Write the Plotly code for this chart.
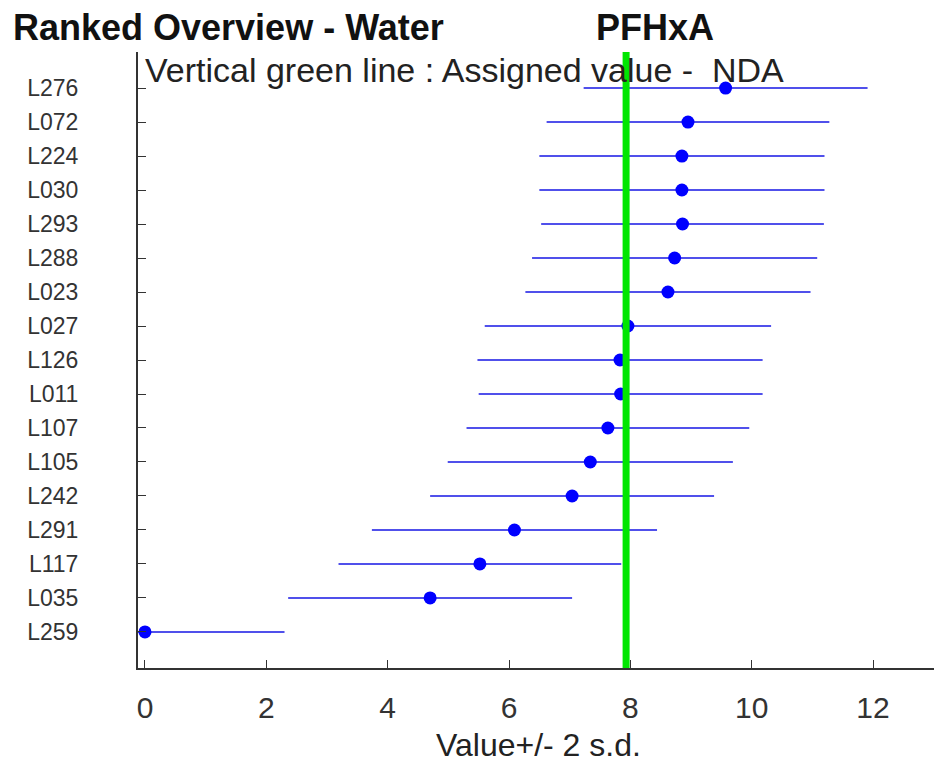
import plotly.graph_objects as go

# lab codes, top of the ranking first
labs = ["L276", "L072", "L224", "L030", "L293", "L288", "L023", "L027", "L126",
        "L011", "L107", "L105", "L242", "L291", "L117", "L035", "L259"]
values = [9.57, 8.95, 8.85, 8.85, 8.86, 8.73, 8.62, 7.96, 7.83,
          7.84, 7.63, 7.34, 7.04, 6.09, 5.52, 4.70, 0.0]
two_sd = [2.34, 2.33, 2.35, 2.35, 2.33, 2.35, 2.35, 2.36, 2.35,
          2.34, 2.33, 2.35, 2.34, 2.35, 2.33, 2.34, 2.30]
assigned = 7.93
x_ticks = [0, 2, 4, 6, 8, 10, 12]

FONT = "Liberation Sans, Arial, sans-serif"

fig = go.Figure()
fig.add_trace(go.Scatter(
    x=values, y=labs, mode="markers",
    marker=dict(color="rgb(0,0,255)", size=13),
    error_x=dict(type="data", array=two_sd, symmetric=True, width=0,
                 color="rgb(80,80,235)", thickness=2),
    hoverinfo="x+y",
))

# assigned value line, drawn over the markers
fig.add_shape(type="line", xref="x", yref="paper", x0=assigned, x1=assigned,
              y0=0, y1=1, line=dict(color="rgb(0,230,0)", width=7), layer="above")

# page body has an 8px margin, so the figure is kept 16px smaller than the window
fig.update_layout(
    width=926, height=757,
    margin=dict(l=130, r=0, t=44, b=97),
    paper_bgcolor="white", plot_bgcolor="white",
    showlegend=False,
    font=dict(family=FONT, color="#222"),
    xaxis=dict(range=[-0.115, 13.005], tickvals=x_ticks, showgrid=False, zeroline=False,
               showline=True, linecolor="#333", linewidth=2, automargin=False,
               ticks="inside", ticklen=8, tickcolor="#333",
               tickfont=dict(size=30, color="#333"), ticklabelstandoff=12),
    yaxis=dict(type="category", categoryorder="array", categoryarray=labs[::-1],
               range=[-1.06, 17.06], showgrid=False, zeroline=False,
               showline=True, linecolor="#333", linewidth=2, automargin=False,
               ticks="inside", ticklen=8, tickcolor="#333",
               tickfont=dict(size=23, color="#333"), ticklabelstandoff=53),
    annotations=[
        dict(text="<b>Ranked Overview - Water</b>", xref="paper", yref="paper",
             x=-0.16, y=1.04, xanchor="left", yanchor="middle", showarrow=False,
             font=dict(size=36, color="#111")),
        dict(text="<b>PFHxA</b>", xref="paper", yref="paper",
             x=0.573, y=1.04, xanchor="left", yanchor="middle", showarrow=False,
             font=dict(size=36, color="#111")),
        dict(text="Vertical green line : Assigned value -\u00a0 NDA", xref="paper", yref="paper",
             x=0.006, y=0.971, xanchor="left", yanchor="middle", showarrow=False,
             font=dict(size=34, color="#222")),
        dict(text="Value+/- 2 s.d.", xref="paper", yref="paper",
             x=0.503, y=-0.125, xanchor="center", yanchor="middle", showarrow=False,
             font=dict(size=32, color="#222")),
    ],
)

fig.write_html("out.html")
